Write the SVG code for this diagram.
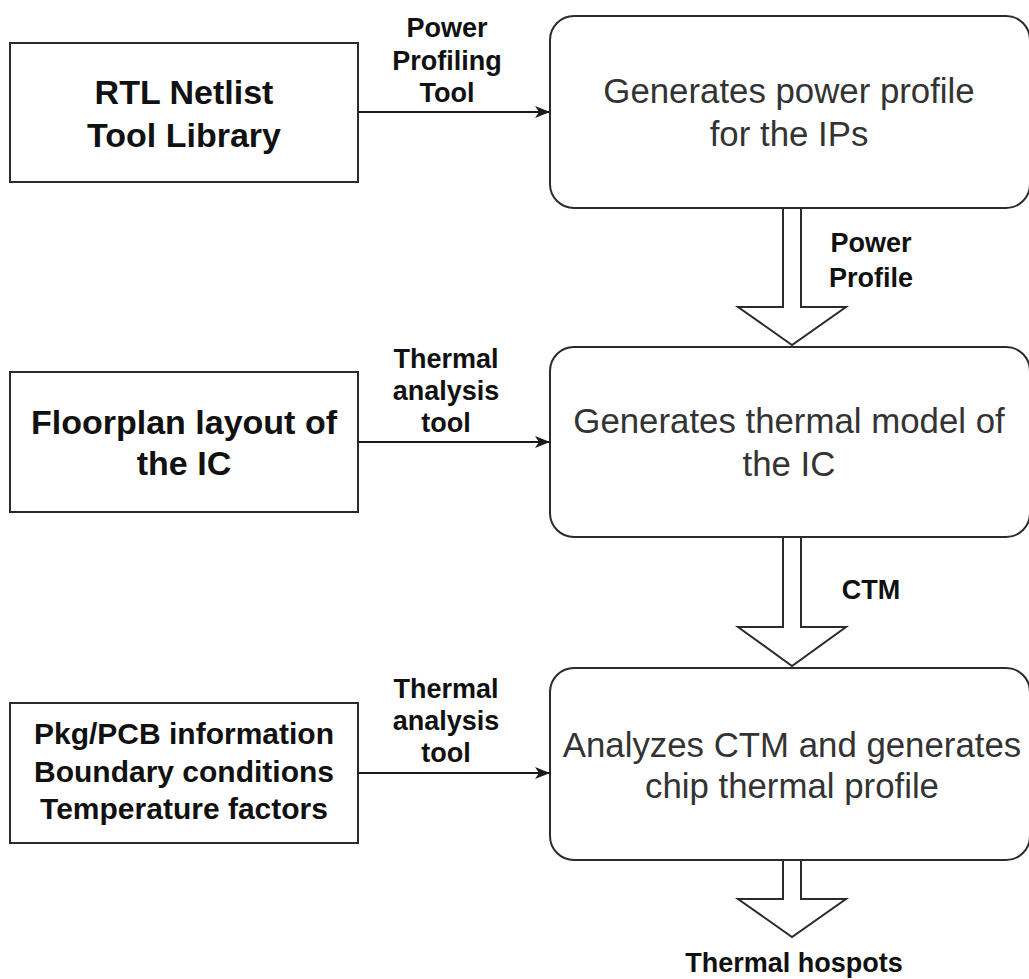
<svg xmlns="http://www.w3.org/2000/svg" width="1029" height="979" viewBox="0 0 1029 979">
  <style>
    .box { fill: #ffffff; stroke: #2b2b2b; stroke-width: 2; }
    .block { fill: #ffffff; stroke: #2b2b2b; stroke-width: 2; stroke-linejoin: miter; }
    .link { fill: none; stroke: #1a1a1a; stroke-width: 2; }
    .in { font-family: "Liberation Sans", Arial, sans-serif; font-weight: bold; font-size: 34px; fill: #111111; text-anchor: middle; }
    .in3 { font-family: "Liberation Sans", Arial, sans-serif; font-weight: bold; font-size: 30px; fill: #111111; text-anchor: middle; }
    .step { font-family: "Liberation Sans", Arial, sans-serif; font-size: 34.8px; fill: #333333; text-anchor: middle; }
    .lbl { font-family: "Liberation Sans", Arial, sans-serif; font-weight: bold; font-size: 27px; fill: #111111; text-anchor: middle; }
  </style>
  <defs>
    <marker id="arrow" markerUnits="userSpaceOnUse" markerWidth="16" markerHeight="12" refX="15" refY="6" orient="auto">
      <path d="M0,0 L15,6 L0,12 L4,6 z" fill="#1a1a1a"/>
    </marker>
  </defs>

  <rect width="1029" height="979" fill="#ffffff"/>

  <!-- input boxes -->
  <g id="rtl-netlist">
    <rect class="box" x="10" y="43" width="348" height="139"/>
    <text class="in" x="184" y="104">RTL Netlist</text>
    <text class="in" x="184" y="147">Tool Library</text>
  </g>
  <g id="floorplan">
    <rect class="box" x="10" y="372" width="348" height="140"/>
    <text class="in" x="184" y="434">Floorplan layout of</text>
    <text class="in" x="184" y="475">the IC</text>
  </g>
  <g id="pkg-pcb">
    <rect class="box" x="10" y="703" width="348" height="140"/>
    <text class="in3" x="184" y="744">Pkg/PCB information</text>
    <text class="in3" x="184" y="782">Boundary conditions</text>
    <text class="in3" x="184" y="819">Temperature factors</text>
  </g>

  <!-- processing steps -->
  <g id="power-profile">
    <rect class="box" x="550" y="16" width="480" height="192" rx="24" ry="24"/>
    <text class="step" x="789" y="103">Generates power profile</text>
    <text class="step" x="789" y="146">for the IPs</text>
  </g>
  <g id="thermal-model">
    <rect class="box" x="550" y="347" width="480" height="190" rx="24" ry="24"/>
    <text class="step" x="789" y="433">Generates thermal model of</text>
    <text class="step" x="789" y="476">the IC</text>
  </g>
  <g id="thermal-profile">
    <rect class="box" x="550" y="668" width="480" height="192" rx="24" ry="24"/>
    <text class="step" x="792" y="757">Analyzes CTM and generates</text>
    <text class="step" x="792" y="798">chip thermal profile</text>
  </g>

  <!-- connectors -->
  <g id="connectors">
    <line class="link" x1="358" y1="112" x2="550" y2="112" marker-end="url(#arrow)"/>
    <text class="lbl" x="447" y="37">Power</text>
    <text class="lbl" x="447" y="70">Profiling</text>
    <text class="lbl" x="447" y="102">Tool</text>

    <line class="link" x1="358" y1="442" x2="550" y2="442" marker-end="url(#arrow)"/>
    <text class="lbl" x="446" y="368">Thermal</text>
    <text class="lbl" x="446" y="400">analysis</text>
    <text class="lbl" x="446" y="432">tool</text>

    <line class="link" x1="358" y1="773" x2="550" y2="773" marker-end="url(#arrow)"/>
    <text class="lbl" x="446" y="698">Thermal</text>
    <text class="lbl" x="446" y="730">analysis</text>
    <text class="lbl" x="446" y="762">tool</text>

    <!-- block arrows between steps -->
    <path class="block" d="M783,208 L801,208 L801,307 L846,307 L792,345 L738,307 L783,307 Z"/>
    <text class="lbl" x="871" y="252">Power</text>
    <text class="lbl" x="871" y="287">Profile</text>

    <path class="block" d="M783,537 L801,537 L801,627 L846,627 L792,666 L738,627 L783,627 Z"/>
    <text class="lbl" x="871" y="599">CTM</text>

    <path class="block" d="M783,860 L801,860 L801,899 L846,899 L792,937 L738,899 L783,899 Z"/>
    <text class="lbl" x="794" y="972">Thermal hospots</text>
  </g>
</svg>
